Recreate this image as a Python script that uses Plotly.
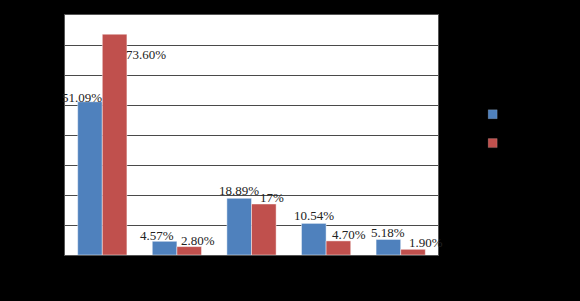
import plotly.graph_objects as go

categories = ["类别1", "类别2", "类别3", "类别4", "类别5"]
series_names = ["系列1", "系列2"]
blue_values = [51.09, 4.57, 18.89, 10.54, 5.18]
red_values = [73.60, 2.80, 17.00, 4.70, 1.90]
blue_labels = ["51.09%", "4.57%", "18.89%", "10.54%", "5.18%"]
red_labels = ["73.60%", "2.80%", "17%", "4.70%", "1.90%"]
y_tick_vals = [0, 10, 20, 30, 40, 50, 60, 70, 80]
y_tick_text = ["0%", "10%", "20%", "30%", "40%", "50%", "60%", "70%", "80%"]

# label pixel offsets (style only)
blue_dx = [-7.5, -8, 0, 0, 0]
blue_dy = [4, 6, 8, 8, 7]
red_dx = [31, 8.5, 8, 11, 13]
red_dy = [-20, 6, 7, 6.5, 7]

BLUE = "#4F81BD"
RED = "#C0504D"
bargap = 0.34
half = (1 - bargap) / 4

fig = go.Figure()
fig.add_trace(go.Bar(x=categories, y=blue_values, name=series_names[0], showlegend=False,
                     marker=dict(color=BLUE, line=dict(color="rgba(255,255,255,0.45)", width=1))))
fig.add_trace(go.Bar(x=categories, y=red_values, name=series_names[1], showlegend=False,
                     marker=dict(color=RED, line=dict(color="rgba(255,255,255,0.45)", width=1))))
# legend entries with small square swatches
for k, (nm, col) in enumerate(zip(series_names, [BLUE, RED])):
    fig.add_trace(go.Scatter(x=[None], y=[None], mode="markers", name=nm,
                             legendgroup=f"g{k}",
                             marker=dict(symbol="square", size=9, color=col,
                                         line=dict(color="rgba(255,255,255,0.3)", width=0.5))))

annos = []
for i in range(len(categories)):
    annos.append(dict(x=i - half, y=blue_values[i], xref="x", yref="y", text=blue_labels[i],
                      showarrow=False, xshift=blue_dx[i], yshift=blue_dy[i], yanchor="middle",
                      xanchor="center",
                      font=dict(family="Liberation Serif", size=13, color="#222222")))
    annos.append(dict(x=i + half, y=red_values[i], xref="x", yref="y", text=red_labels[i],
                      showarrow=False, xshift=red_dx[i], yshift=red_dy[i], yanchor="middle",
                      xanchor="center",
                      font=dict(family="Liberation Serif", size=13, color="#222222")))

fig.update_layout(
    width=580, height=301,
    margin=dict(l=65, r=142, t=15, b=46, pad=0, autoexpand=False),
    paper_bgcolor="#000000", plot_bgcolor="#ffffff",
    barmode="group", bargap=bargap, bargroupgap=0,
    font=dict(family="Liberation Serif", size=13, color="#000000"),
    showlegend=True,
    legend=dict(x=1.093, y=0.526, xanchor="left", yanchor="middle", bgcolor="rgba(0,0,0,0)",
                font=dict(size=13, color="#000000"), traceorder="grouped", tracegroupgap=9,
                itemsizing="trace"),
    annotations=annos,
    xaxis=dict(type="category", range=[-0.5, len(categories) - 0.5], showgrid=False,
               showline=True, linecolor="#555555", linewidth=1, mirror=True,
               ticks="", tickfont=dict(color="#000000"), automargin=False),
    yaxis=dict(range=[0, 80], tickvals=y_tick_vals, ticktext=y_tick_text, showgrid=True,
               gridcolor="#4a4a4a", gridwidth=1, showline=True, linecolor="#555555",
               linewidth=1, mirror=True, zeroline=False, tickfont=dict(color="#000000"),
               automargin=False),
)

fig.write_html("out.html")
